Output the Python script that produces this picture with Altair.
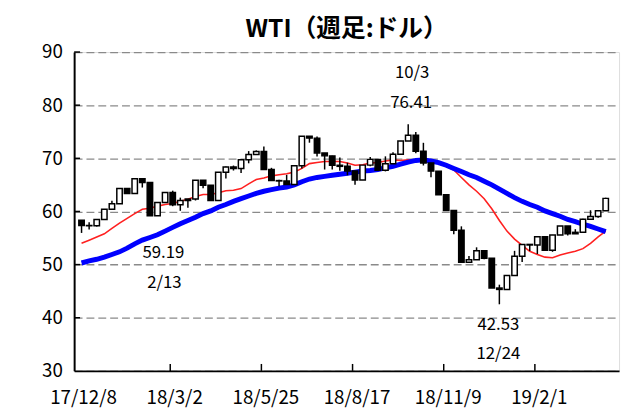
import altair as alt
import pandas as pd

# Weekly candles (week ending dates)
dates = [
    "2017-12-08", "2017-12-15", "2017-12-22", "2017-12-29",
    "2018-01-05", "2018-01-12", "2018-01-19", "2018-01-26",
    "2018-02-02", "2018-02-09", "2018-02-16", "2018-02-23",
    "2018-03-02", "2018-03-09", "2018-03-16", "2018-03-23", "2018-03-30",
    "2018-04-06", "2018-04-13", "2018-04-20", "2018-04-27",
    "2018-05-04", "2018-05-11", "2018-05-18", "2018-05-25",
    "2018-06-01", "2018-06-08", "2018-06-15", "2018-06-22", "2018-06-29",
    "2018-07-06", "2018-07-13", "2018-07-20", "2018-07-27",
    "2018-08-03", "2018-08-10", "2018-08-17", "2018-08-24", "2018-08-31",
    "2018-09-07", "2018-09-14", "2018-09-21", "2018-09-28",
    "2018-10-05", "2018-10-12", "2018-10-19", "2018-10-26",
    "2018-11-02", "2018-11-09", "2018-11-16", "2018-11-23", "2018-11-30",
    "2018-12-07", "2018-12-14", "2018-12-21", "2018-12-28",
    "2019-01-04", "2019-01-11", "2019-01-18", "2019-01-25",
    "2019-02-01", "2019-02-08", "2019-02-15", "2019-02-22",
    "2019-03-01", "2019-03-08", "2019-03-15", "2019-03-22", "2019-03-29",
    "2019-04-05",
]
opens = [58.36, 57.36, 57.30, 58.47, 60.42, 61.44, 64.30, 63.37, 66.14, 65.45,
         59.20, 61.68, 63.55, 61.25, 62.04, 62.34, 65.88, 64.94, 62.06, 67.39,
         68.38, 68.10, 69.72, 70.70, 71.28, 67.88, 65.81, 65.74, 65.06, 68.58,
         74.15, 73.80, 71.01, 70.46, 68.69, 68.49, 67.63, 65.91, 68.72, 69.80,
         67.75, 68.99, 70.78, 73.25, 74.34, 71.34, 69.12, 67.59, 63.14, 60.19,
         56.46, 50.42, 50.93, 52.61, 51.20, 45.59, 45.33, 47.96, 51.59, 53.80,
         53.69, 55.26, 52.72, 55.59, 57.26, 55.80, 56.07, 58.52, 59.04, 60.14]
highs = [58.36, 57.99, 58.47, 60.42, 62.01, 64.30, 64.30, 66.14, 66.14, 65.45,
         61.68, 63.55, 63.91, 62.60, 62.34, 65.88, 65.88, 64.94, 67.39, 68.47,
         68.64, 69.72, 71.36, 71.49, 72.24, 68.21, 65.95, 66.89, 68.58, 74.15,
         74.15, 74.11, 71.01, 70.46, 70.13, 69.17, 67.63, 68.72, 70.25, 69.87,
         70.37, 71.12, 73.25, 76.41, 74.96, 72.92, 69.17, 67.59, 63.14, 60.19,
         57.20, 51.63, 53.25, 52.61, 51.20, 46.22, 47.96, 52.59, 53.80, 53.80,
         55.26, 55.26, 55.59, 57.26, 57.26, 56.66, 58.61, 60.23, 60.14, 62.58]
lows = [55.96, 56.60, 57.16, 58.47, 60.37, 61.44, 63.37, 63.37, 64.50, 59.20,
        59.19, 61.68, 60.99, 60.12, 60.71, 62.06, 64.38, 62.06, 62.06, 66.22,
        67.70, 67.25, 69.06, 70.70, 67.88, 65.81, 64.73, 65.06, 65.06, 68.08,
        72.94, 70.33, 67.89, 67.89, 67.66, 66.81, 65.01, 65.91, 68.53, 67.75,
        67.54, 68.91, 70.78, 73.25, 70.97, 68.65, 66.43, 63.14, 60.19, 55.69,
        50.42, 50.29, 50.93, 51.00, 45.59, 42.53, 45.33, 47.96, 50.51, 52.57,
        51.99, 52.64, 52.41, 55.59, 55.48, 55.80, 56.07, 58.52, 58.82, 60.14]
closes = [57.36, 57.30, 58.47, 60.42, 61.44, 64.30, 63.37, 66.14, 65.45, 59.20,
          61.68, 63.55, 61.25, 62.04, 62.34, 65.88, 64.94, 62.06, 67.39, 68.38,
          68.10, 69.72, 70.70, 71.28, 67.88, 65.81, 65.74, 65.06, 68.58, 74.15,
          73.80, 71.01, 70.46, 68.69, 68.49, 67.63, 65.91, 68.72, 69.80, 67.75,
          68.99, 70.78, 73.25, 74.34, 71.34, 69.12, 67.59, 63.14, 60.19, 56.46,
          50.42, 50.93, 52.61, 51.20, 45.59, 45.33, 47.96, 51.59, 53.80, 53.69,
          55.26, 52.72, 55.59, 57.26, 55.80, 56.07, 58.52, 59.04, 60.14, 62.46]
# 13-week (red) and 26-week (blue) moving averages
ma13 = [54.0, 54.6, 55.2, 55.8, 56.8, 57.8, 58.7, 59.6, 60.4, 60.6,
        61.0, 61.3, 61.5, 61.9, 62.3, 62.8, 63.2, 63.2, 63.5, 63.9,
        64.0, 64.3, 65.2, 66.0, 66.3, 66.7, 66.9, 67.1, 67.4, 68.1,
        69.0, 69.2, 69.4, 69.4, 69.4, 69.1, 68.7, 68.8, 69.1, 69.2,
        69.5, 69.7, 69.6, 69.7, 69.7, 69.6, 69.5, 69.1, 68.5, 67.8,
        66.4, 65.0, 63.8, 62.4, 60.5, 58.3, 56.3, 54.8, 53.6, 52.5,
        51.9, 51.4, 51.3, 51.8, 52.2, 52.5, 53.0, 54.0, 55.2, 56.3]
ma26 = [50.3, 50.7, 51.0, 51.4, 51.9, 52.4, 53.1, 53.9, 54.6, 55.1,
        55.6, 56.3, 57.0, 57.7, 58.3, 58.9, 59.6, 60.1, 60.8, 61.3,
        61.9, 62.4, 62.9, 63.4, 63.8, 64.1, 64.4, 64.6, 65.0, 65.6,
        66.1, 66.4, 66.6, 66.8, 67.0, 67.2, 67.4, 67.6, 67.7, 67.9,
        68.2, 68.5, 68.9, 69.3, 69.6, 69.7, 69.5, 69.2, 68.7, 68.1,
        67.5, 66.9, 66.4, 65.7, 65.0, 64.2, 63.4, 62.6, 61.9, 61.3,
        60.8, 60.1, 59.6, 59.1, 58.5, 58.1, 57.6, 57.2, 56.7, 56.2]

tick_dates = [(2017, 12, 8), (2018, 3, 2), (2018, 5, 25), (2018, 8, 17),
              (2018, 11, 9), (2019, 2, 1)]
y_ticks = [30, 40, 50, 60, 70, 80, 90]

# annotations: (candle date, value, label)
ann_high = ("2018-10-05", 76.41, "10/3", "76.41")
ann_low1 = ("2018-02-16", 59.19, "59.19", "2/13")
ann_low2 = ("2018-12-28", 42.53, "42.53", "12/24")

df = pd.DataFrame({"date": dates, "open": opens, "high": highs, "low": lows,
                   "close": closes, "ma13": ma13, "ma26": ma26})

FONT = "Noto Sans CJK JP"
XOFF = 2.5

xscale = alt.Scale(type="utc",
                   domain=[alt.DateTime(year=2017, month=12, date=8, utc=True),
                           alt.DateTime(year=2019, month=4, date=15, utc=True)])
yscale = alt.Scale(domain=[30, 90], nice=False, zero=False)

xaxis = alt.Axis(values=[alt.DateTime(year=a, month=b, date=c, utc=True) for a, b, c in tick_dates],
                 labelExpr="utcFormat(datum.value, '%y/%-m/%-d')",
                 title=None, grid=False, ticks=False, domainColor="black",
                 domainWidth=2, labelFont=FONT, labelFontSize=19, labelColor="black",
                 labelPadding=18, labelOffset=4, labelFlush=False, labelOverlap=False)
yaxis = alt.Axis(values=y_ticks, title=None, grid=True, gridDash=[8, 4],
                 gridColor="#8a8a8a", gridWidth=1.3, ticks=False,
                 domainColor="black", domainWidth=2, labelFont=FONT,
                 labelFontSize=19, labelColor="black", labelPadding=12)

base = alt.Chart(df)
X = alt.X("date:T", scale=xscale, axis=xaxis)

red = base.mark_line(color="#ff2020", strokeWidth=1.6, xOffset=XOFF).encode(
    x=X, y=alt.Y("ma13:Q", scale=yscale, axis=yaxis))
blue = base.mark_line(color="#0000ff", strokeWidth=5, xOffset=XOFF).encode(
    x="date:T", y="ma26:Q")
wick = base.mark_rule(color="black", strokeWidth=1.5, xOffset=XOFF).encode(
    x="date:T", y="low:Q", y2="high:Q")
body = base.mark_bar(size=5.5, stroke="black", strokeWidth=1.5, xOffset=XOFF).encode(
    x="date:T", y="open:Q", y2="close:Q",
    fill=alt.condition("datum.close >= datum.open", alt.value("white"), alt.value("black")))

# inward tick marks
ytick_df = pd.DataFrame({"v": y_ticks[1:]})
yt = alt.Chart(ytick_df).mark_rule(color="black", strokeWidth=1.5).encode(
    y="v:Q", x=alt.value(0), x2=alt.value(6))
xtick_df = pd.DataFrame({"d": ["%04d-%02d-%02d" % t for t in tick_dates[1:]]})
xt = alt.Chart(xtick_df).mark_rule(color="black", strokeWidth=1.5).encode(
    x="d:T", y=alt.value(316), y2=alt.value(323))


def ann(a, txt, dy, dx):
    d = pd.DataFrame({"date": [a[0]], "v": [a[1]], "t": [txt]})
    return alt.Chart(d).mark_text(font=FONT, fontSize=17, color="black",
                                  baseline="middle", dy=dy, dx=dx + XOFF).encode(
        x="date:T", y="v:Q", text="t:N")


anns = [ann(ann_high, ann_high[2], -52, 4), ann(ann_high, ann_high[3], -21, 3),
        ann(ann_low1, ann_low1[2], 38, 6), ann(ann_low1, ann_low1[3], 68, 7),
        ann(ann_low2, ann_low2[2], 21, -1), ann(ann_low2, ann_low2[3], 50, -1)]

chart = alt.layer(red, blue, wick, body, yt, xt, *anns).properties(
    width=552, height=323,
    autosize=alt.AutoSizeParams(type="none"),
    padding={"left": 67, "top": 42, "right": 3, "bottom": 35},
    title=alt.Title("WTI（週足:ドル）", font=FONT, fontSize=25, fontWeight="bold",
                    color="black", anchor="middle", frame="group", offset=1),
).configure_view(stroke=None).configure(background="white")

chart.save("out.html", embed_options={"renderer": "svg", "actions": False})
